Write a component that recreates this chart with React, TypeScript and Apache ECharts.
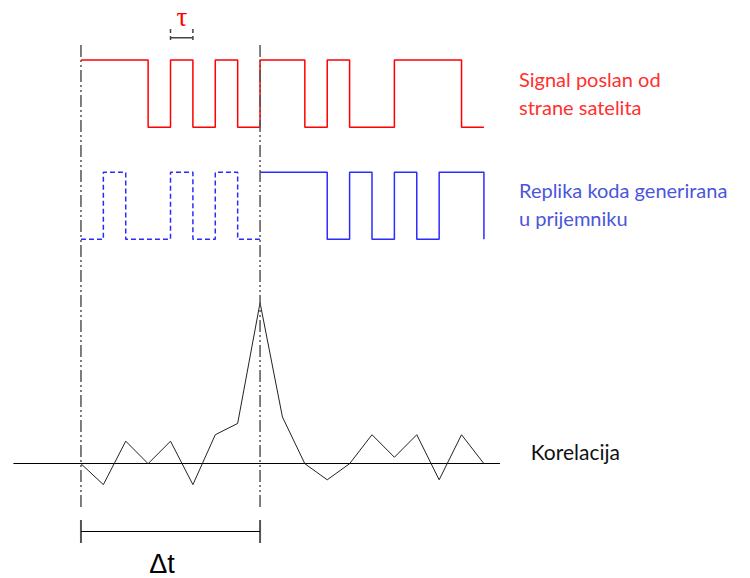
import React, { useEffect, useRef } from "react";
import * as echarts from "echarts";

// chip-level data (one value per chip of duration tau)
const SAT_BITS = [1, 1, 1, 0, 1, 0, 1, 0, 1, 1, 0, 1, 0, 0, 1, 1, 1, 0];
const REPLICA_EARLY_BITS = [0, 1, 0, 0, 1, 0, 1, 0]; // chips 0..7 (dashed)
const REPLICA_BITS = [1, 1, 1, 0, 1, 0, 1, 0, 1, 1]; // chips 8..17 (solid)
const REPLICA_START = 8;
const CORR = [0, -0.13, 0.14, 0, 0.14, -0.13, 0.18, 0.25, 1, 0.29, 0, -0.1, 0, 0.18, 0.04, 0.18, -0.1, 0.18, 0];
const MARKERS = [0, 8]; // start / end of Δt
const TAU = [4, 5];

const X_MIN = -3;
const X_MAX = 18.7;

function stepPoints(bits: number[], start: number): number[][] {
  const pts: number[][] = [];
  bits.forEach((b, i) => {
    pts.push([start + i, b]);
    pts.push([start + i + 1, b]);
  });
  return pts;
}

export default function App() {
  const ref = useRef<HTMLDivElement>(null);
  useEffect(() => {
    if (!ref.current) return;
    const chart = echarts.init(ref.current, null, { renderer: "svg" });
    const gridX = { left: 13.8, width: 485.8 };
    const hiddenX = (gridIndex: number) => ({
      type: "value", gridIndex, min: X_MIN, max: X_MAX, show: false,
    });
    const hiddenY = (gridIndex: number, min: number, max: number) => ({
      type: "value", gridIndex, min, max, show: false,
    });
    const base = { type: "line", symbol: "none", showSymbol: false, clip: false, silent: true };
    const replicaSolid = stepPoints(REPLICA_BITS, REPLICA_START);
    replicaSolid.push([REPLICA_START + REPLICA_BITS.length, 0]);
    const dashDot = [12, 3, 2, 3, 2, 3];

    const series: any[] = [
      { ...base, xAxisIndex: 0, yAxisIndex: 0, data: stepPoints(SAT_BITS, 0), lineStyle: { color: "#ff0000", width: 1.5 } },
      { ...base, xAxisIndex: 1, yAxisIndex: 1, data: stepPoints(REPLICA_EARLY_BITS, 0), lineStyle: { color: "#2b2bff", width: 1.5, type: [5, 3] } },
      { ...base, xAxisIndex: 1, yAxisIndex: 1, data: replicaSolid, lineStyle: { color: "#2b2bff", width: 1.5 } },
      { ...base, xAxisIndex: 2, yAxisIndex: 2, data: CORR.map((v, i) => [i, v]), lineStyle: { color: "#222", width: 1 } },
    ];
    MARKERS.forEach((m) => {
      series.push({ ...base, xAxisIndex: 3, yAxisIndex: 3, data: [[m, 0], [m, 1]], lineStyle: { color: "#555", width: 1.5, type: dashDot } });
      series.push({ ...base, xAxisIndex: 4, yAxisIndex: 4, data: [[m, 0], [m, 1]], lineStyle: { color: "#555", width: 2 } });
    });
    series.push({ ...base, xAxisIndex: 4, yAxisIndex: 4, data: MARKERS.map((m) => [m, 0.5]), lineStyle: { color: "#000", width: 1.2 } });
    TAU.forEach((t) => {
      series.push({ ...base, xAxisIndex: 5, yAxisIndex: 5, data: [[t, 0], [t, 1]], lineStyle: { color: "#444", width: 1.5, type: [4, 3] } });
    });
    series.push({ ...base, xAxisIndex: 5, yAxisIndex: 5, data: TAU.map((t) => [t, 0.16]), lineStyle: { color: "#444", width: 1.5 } });

    const labelFont = "Lato";
    const fs = 20;
    const option: any = {
      animation: false,
      backgroundColor: "#ffffff",
      grid: [
        { ...gridX, top: 60, height: 67.3 },
        { ...gridX, top: 172.3, height: 67 },
        { ...gridX, top: 302.7, height: 185.15 },
        { ...gridX, top: 43, height: 464 },
        { ...gridX, top: 520, height: 23 },
        { ...gridX, top: 26, height: 14 },
      ],
      xAxis: [
        hiddenX(0),
        hiddenX(1),
        {
          type: "value", gridIndex: 2, min: X_MIN, max: X_MAX, show: true,
          axisLine: { show: true, onZero: true, lineStyle: { color: "#000", width: 1 } },
          axisTick: { show: false }, axisLabel: { show: false }, splitLine: { show: false },
        },
        hiddenX(3),
        hiddenX(4),
        hiddenX(5),
      ],
      yAxis: [
        hiddenY(0, 0, 1),
        hiddenY(1, 0, 1),
        { type: "value", gridIndex: 2, min: -0.15, max: 1, show: false, splitLine: { show: false } },
        hiddenY(3, 0, 1),
        hiddenY(4, 0, 1),
        hiddenY(5, 0, 1),
      ],
      series,
      graphic: [
        { type: "text", x: 519, y: 79, style: { text: "Signal poslan od", fill: "#ff3030", font: `${fs}px ${labelFont}`, verticalAlign: "middle" } },
        { type: "text", x: 519, y: 107, style: { text: "strane satelita", fill: "#ff3030", font: `${fs}px ${labelFont}`, verticalAlign: "middle" } },
        { type: "text", x: 519, y: 190, style: { text: "Replika koda generirana", fill: "#4a55dc", font: `${fs}px ${labelFont}`, verticalAlign: "middle" } },
        { type: "text", x: 519, y: 218, style: { text: "u prijemniku", fill: "#4a55dc", font: `${fs}px ${labelFont}`, verticalAlign: "middle" } },
        { type: "text", x: 530.7, y: 451, style: { text: "Korelacija", fill: "#111", font: `21px ${labelFont}`, verticalAlign: "middle" } },
        { type: "text", x: 162, y: 564, style: { text: "Δt", fill: "#000", font: `27px "Liberation Sans"`, align: "center", verticalAlign: "middle" } },
        { type: "text", x: 182, y: 17, style: { text: "τ", fill: "#ff0000", font: `27px "Liberation Serif"`, align: "center", verticalAlign: "middle" } },
      ],
    };
    chart.setOption(option);
    return () => chart.dispose();
  }, []);
  return <div ref={ref} style={{ width: 750, height: 578, position: "absolute", left: 0, top: 0 }} />;
}
